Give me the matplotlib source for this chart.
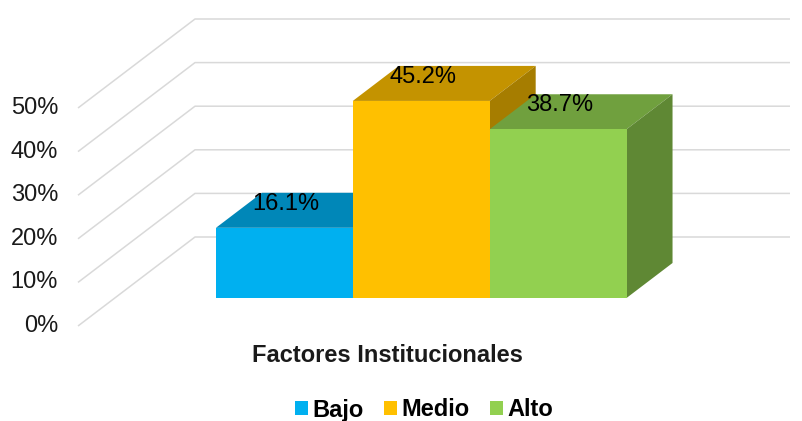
import matplotlib
matplotlib.use("Agg")
import matplotlib.pyplot as plt
from matplotlib.patches import Polygon, Patch

plt.rcParams['font.family'] = ['Liberation Sans', 'DejaVu Sans']

# ---- data ----
series = ["Bajo", "Medio", "Alto"]
values = [16.1, 45.2, 38.7]
labels = ["16.1%", "45.2%", "38.7%"]
yticks = [0, 10, 20, 30, 40, 50]
ytick_labels = ["0%", "10%", "20%", "30%", "40%", "50%"]
title = "Factores Institucionales"

# ---- style ----
front_cols = ["#00B0F0", "#FFC000", "#92D050"]
top_cols = ["#0087B8", "#C49300", "#70A03E"]
side_cols = ["#00729C", "#A67D00", "#5F8834"]
grid_col = "#D9D9D9"
FS = 17

W, H = 802, 421
fig = plt.figure(figsize=(W / 100, H / 100), dpi=100)
ax = fig.add_axes([78 / W, (H - 326) / H, 595 / W, 218 / H])
ax.set_xlim(0, 1)
ax.set_ylim(0, 50)
ax.axis("off")

# oblique depth vector (data units for full floor depth)
DX = 117 / 595
DY = 89 / 218 * 50


def P(x, y, d):
    return (x + d * DX, y + d * DY)


# gridlines: left wall + back wall
for v in yticks:
    pts = [P(0, v, 0), P(0, v, 1), P(1, v, 1)]
    ax.plot([p[0] for p in pts], [p[1] for p in pts], color=grid_col,
            lw=1.1, clip_on=False, zorder=1, solid_capstyle="butt")

# tick labels
for v, t in zip(yticks, ytick_labels):
    ax.text(-0.0336, v, t, ha="right", va="center", fontsize=FS,
            color="#1a1a1a", clip_on=False)

# bars
bar_w = 0.23
x_start = 0.170
f0, f1 = 0.3146, 0.708
for i, (h, lab) in enumerate(zip(values, labels)):
    x0 = x_start + i * bar_w
    x1 = x0 + bar_w
    top = [P(x0, h, f0), P(x1, h, f0), P(x1, h, f1), P(x0, h, f1)]
    side = [P(x1, 0, f0), P(x1, 0, f1), P(x1, h, f1), P(x1, h, f0)]
    front = [P(x0, 0, f0), P(x1, 0, f0), P(x1, h, f0), P(x0, h, f0)]
    z = 2 + i * 3
    ax.add_patch(Polygon(top, closed=True, fc=top_cols[i], ec="none",
                         clip_on=False, zorder=z))
    ax.add_patch(Polygon(side, closed=True, fc=side_cols[i], ec="none",
                         clip_on=False, zorder=z))
    ax.add_patch(Polygon(front, closed=True, fc=front_cols[i], ec="none",
                         clip_on=False, zorder=z + 1))
    cx = (x0 + x1) / 2 + f0 * DX + 0.003
    cy = h + f0 * DY + 5.5
    ax.text(cx, cy, lab, ha="center", va="center", fontsize=FS,
            color="black", zorder=20, clip_on=False)

# title (category axis title)
fig.text(387 / W, 1 - 355 / H, title, ha="center", va="center",
         fontsize=FS, fontweight="bold", color="#1a1a1a")

# legend
handles = [Patch(facecolor=c, edgecolor="none") for c in front_cols]
fig.legend(handles, series, loc="center", bbox_to_anchor=(424 / W, 1 - 410 / H),
           ncol=3, frameon=False, prop={"weight": "bold", "size": FS},
           handlelength=0.55, handleheight=0.55, handletextpad=0.2,
           columnspacing=0.85, borderpad=0, borderaxespad=0)

fig.savefig("out.png", dpi=100)
